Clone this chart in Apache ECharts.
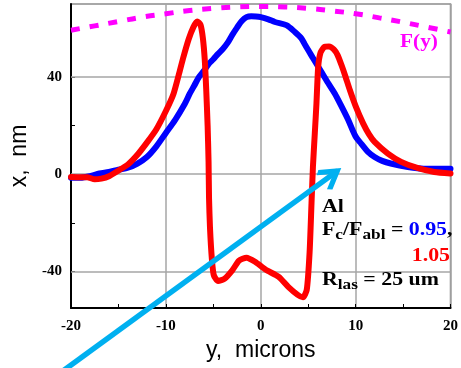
<!DOCTYPE html>
<html>
<head>
<meta charset="utf-8">
<script src="https://cdn.jsdelivr.net/npm/echarts@6/dist/echarts.min.js"></script>
<style>
  html, body { margin: 0; padding: 0; background: #fff; }
  #chart { width: 461px; height: 368px; }
</style>
</head>
<body>
<div id="chart"></div>
<script>
// Crater profile for Fc/Fabl = 0.95 (blue)
const posLow = [-20, -19, -18, -17, -16, -15, -14, -13, -12, -11, -10, -9, -8, -7.5, -7, -6.5, -6, -5.5, -5, -4.5, -4, -3.5, -3, -2.5, -2, -1.5, -1, -0.5, 0, 0.8, 1.5, 2.7, 3.6, 4.3, 4.7, 5.5, 6.4, 7.1, 7.8, 8.5, 9.2, 10, 10.6, 11.3, 12, 12.8, 13.7, 15.5, 17.2, 20];
const depthLow = [-1.4, -1.4, -0.8, 0.3, 0.9, 1.9, 2.7, 4.4, 7.1, 11.5, 17, 22.5, 29, 33, 36.5, 40, 42.5, 45.3, 47.3, 49.5, 51.5, 54, 57.3, 60.3, 63, 64.6, 65, 64.9, 64.6, 63.7, 62.6, 61.3, 58.5, 55.8, 53, 47.8, 42, 37.5, 33.2, 28, 22.5, 15.5, 12.5, 9.2, 7.1, 5.5, 4.4, 3, 2.3, 2.3];

// Crater profile for Fc/Fabl = 1.05 (red)
const posHigh = [-20, -19, -18.3, -17.5, -16.8, -16, -15, -14, -13, -12, -11, -10, -9.2, -8.6, -8.2, -7.6, -7.1, -6.7, -6.35, -6.1, -5.9, -5.75, -5.6, -5.5, -5.45, -5.35, -5.15, -4.95, -4.5, -3.8, -3.0, -2.3, -1.5, -0.6, 0.5, 1.9, 2.9, 3.9, 4.45, 4.85, 5.15, 5.35, 5.5, 5.7, 5.87, 6.05, 6.3, 6.7, 7.2, 7.7, 8.1, 8.5, 8.9, 9.4, 10, 10.8, 11.4, 12, 13.4, 14.8, 16.5, 18.3, 20];
const depthHigh = [-1.1, -1.2, -1.2, -2.1, -1.8, -0.8, 1.5, 4, 8, 13, 18.5, 26, 33, 41.5, 47.5, 55.5, 60.5, 62.8, 61.5, 56, 47, 35, 20, 5, -10, -22, -35, -41.5, -43.9, -42.9, -39.5, -35.6, -34.3, -36, -39.2, -42.2, -46.3, -49.6, -50.6, -47.5, -32, -12, 3, 17, 29, 44, 50, 52.3, 52.5, 51.3, 49, 45, 40.5, 34.5, 28, 20.8, 16.5, 13.3, 8.5, 5.1, 2.6, 0.9, 0.3];

// Laser fluence profile F(y), drawn on the same scale
const posFluence = [-20, -17.5, -15, -12.5, -10, -7.5, -5, -2.5, 0, 2.5, 5, 7.5, 10, 12.5, 15, 17.5, 20];
const fluence = [59.2, 61, 62.8, 64.6, 66, 67.3, 68.2, 68.8, 69, 68.8, 68.2, 67.2, 66, 64.3, 62.5, 60.5, 58.5];

// Axis ticks and labels
const yLabelValues = [-40, 0, 40];
const yTickValues = [-40, -20, 0, 20, 40];
const yGridValues = [-40, 0, 40];

// Pointer arrow, from the lower left to the right rim
const pointerPath = [[-21.7, -83.3], [8.12, 1.48]];

const zip = (xs, ys) => xs.map((x, i) => [x, ys[i]]);

const serif = '"Liberation Serif", "Times New Roman", serif';
const sans = '"Liberation Sans", Arial, sans-serif';

// Open chevron head; the tip sits just ahead of the symbol centre
const chevron = 'path://M-50,-100L150,-100L150,-99.99Z' +
  'M-50,100L150,100L150,100.01Z' +
  'M50,-18L100,64L86,82L50,24L14,82L0,64Z';

const chart = echarts.init(document.getElementById('chart'), null, { renderer: 'canvas' });

const mainFont = 'bold 19px ' + serif;
const subFont = 'bold 15px ' + serif;

chart.setOption({
  animation: false,
  grid: {
    left: 71, right: 8, top: 4, bottom: 60,
    show: true, borderColor: '#8c8c8c', borderWidth: 1.5
  },
  xAxis: {
    type: 'value', min: -20, max: 20, interval: 10,
    name: 'y,  microns', nameLocation: 'middle', nameGap: 30,
    nameTextStyle: { fontFamily: sans, fontSize: 23, color: '#000' },
    axisLine: { show: true, onZero: false, lineStyle: { color: '#000', width: 2 } },
    axisTick: { show: true, inside: true, length: 4, lineStyle: { color: '#000', width: 1 } },
    minorTick: { show: true, splitNumber: 2, length: 4, lineStyle: { color: '#000', width: 1 } },
    axisLabel: { fontFamily: serif, fontWeight: 'bold', fontSize: 15, color: '#000', margin: 11 },
    splitLine: { show: true, lineStyle: { color: '#a6a6a6', width: 1.5 } }
  },
  yAxis: {
    type: 'value', min: -55, max: 70,
    name: 'x,  nm', nameLocation: 'middle', nameRotate: 90, nameGap: 36,
    nameTextStyle: { fontFamily: sans, fontSize: 23, color: '#000' },
    axisLine: { show: true, onZero: false, lineStyle: { color: '#000', width: 2 } },
    axisTick: { show: true, inside: true, length: 4, customValues: yTickValues, lineStyle: { color: '#000', width: 1 } },
    axisLabel: { customValues: yLabelValues, fontFamily: serif, fontWeight: 'bold', fontSize: 15, color: '#000', margin: 9 },
    splitLine: { show: false }
  },
  series: [
    {
      type: 'line', name: 'F(y)', data: zip(posFluence, fluence),
      symbol: 'none', smooth: true, z: 1,
      lineStyle: { color: '#ff00ff', width: 5, type: [9, 10], cap: 'butt' },
      markLine: {
        silent: true, symbol: 'none', z: 1, animation: false,
        label: { show: false },
        lineStyle: { color: '#a6a6a6', width: 1.5, type: 'solid' },
        data: yGridValues.map(v => ({ yAxis: v }))
      }
    },
    {
      type: 'line', name: '0.95', data: zip(posLow, depthLow),
      symbol: 'none', smooth: 0.3, z: 3,
      lineStyle: { color: '#0000ff', width: 6, join: 'round', cap: 'round' }
    },
    {
      type: 'line', name: '1.05', data: zip(posHigh, depthHigh),
      symbol: 'none', smooth: 0.2, z: 4,
      lineStyle: { color: '#ff0000', width: 6, join: 'round', cap: 'round' }
    },
    {
      type: 'lines', coordinateSystem: 'cartesian2d', clip: false, silent: true, z: 6,
      symbol: ['none', chevron], symbolSize: 48,
      lineStyle: { color: '#00b0f0', width: 5.5, opacity: 1, curveness: 0 },
      data: [{ coords: pointerPath }]
    }
  ],
  graphic: [
    {
      type: 'text', x: 419, y: 42, scaleX: 1.12, z: 10,
      style: { text: 'F(y)', font: 'bold 19px ' + serif, fill: '#ff00ff', align: 'center', verticalAlign: 'middle' }
    },
    {
      type: 'text', x: 322, y: 207, scaleX: 1.15, z: 10,
      style: { text: 'Al', font: mainFont, fill: '#000', align: 'left', verticalAlign: 'middle' }
    },
    {
      type: 'text', x: 322, y: 230, scaleX: 1.15, z: 10,
      style: {
        text: '{m|F}{s|c}{m|/F}{s|abl}{m| = }{b|0.95}{m|,}',
        align: 'left', verticalAlign: 'middle',
        rich: {
          m: { font: mainFont, fill: '#000' },
          s: { font: subFont, fill: '#000', padding: [10, 0, 0, 0] },
          b: { font: mainFont, fill: '#0000ff' }
        }
      }
    },
    {
      type: 'text', x: 450, y: 256, scaleX: 1.15, z: 10,
      style: { text: '1.05', font: mainFont, fill: '#ff0000', align: 'right', verticalAlign: 'middle' }
    },
    {
      type: 'text', x: 322, y: 280, scaleX: 1.15, z: 10,
      style: {
        text: '{m|R}{s|las}{m| = 25 um}',
        align: 'left', verticalAlign: 'middle',
        rich: {
          m: { font: mainFont, fill: '#000' },
          s: { font: subFont, fill: '#000', padding: [10, 0, 0, 0] }
        }
      }
    }
  ]
});
</script>
</body>
</html>
